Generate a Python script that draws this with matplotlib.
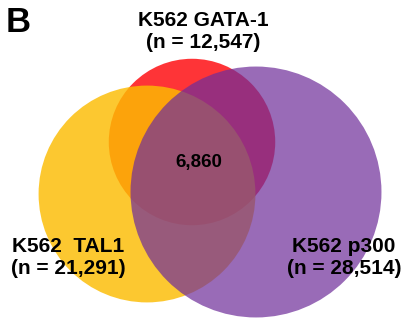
import matplotlib
matplotlib.use("Agg")
import matplotlib.pyplot as plt
from matplotlib.patches import Circle
import numpy as np

plt.rcParams['font.family'] = ['Liberation Sans', 'DejaVu Sans']

# data
sets = ['K562 GATA-1', 'K562  TAL1', 'K562 p300']
counts = [12547, 21291, 28514]
overlap_all = 6860

# layout (pixels of a 404x321 canvas)
centers = [(192, 142), (147, 194), (256, 192)]
colors = ['#fe3437', '#fcbc02', '#6f2e9a']
alphas = [1.0, 0.82, 0.71]
scale = 0.743  # radius px per sqrt(count)

fig = plt.figure(figsize=(4.04, 3.21), dpi=100)
ax = fig.add_axes([0, 0, 1, 1])
ax.set_xlim(0, 404)
ax.set_ylim(321, 0)
ax.set_aspect('equal')
ax.axis('off')

for (cx, cy), n, c, a in zip(centers, counts, colors, alphas):
    ax.add_patch(Circle((cx, cy), scale * np.sqrt(n), facecolor=c,
                        edgecolor='none', alpha=a))

ax.text(6, 23, 'B', fontsize=25, fontweight='bold', va='center', ha='left')

ax.text(203, 32, f'{sets[0]}\n(n = {counts[0]:,})', fontsize=15,
        fontweight='bold', ha='center', va='center', linespacing=1.2)
ax.text(68, 258, f'{sets[1]}\n(n = {counts[1]:,})', fontsize=15,
        fontweight='bold', ha='center', va='center', linespacing=1.2)
ax.text(344, 258, f'{sets[2]}\n(n = {counts[2]:,})', fontsize=15,
        fontweight='bold', ha='center', va='center', linespacing=1.2)

ax.text(199, 163, f'{overlap_all:,}', fontsize=13.5, fontweight='bold',
        ha='center', va='center')

fig.savefig('out.png', dpi=100)
